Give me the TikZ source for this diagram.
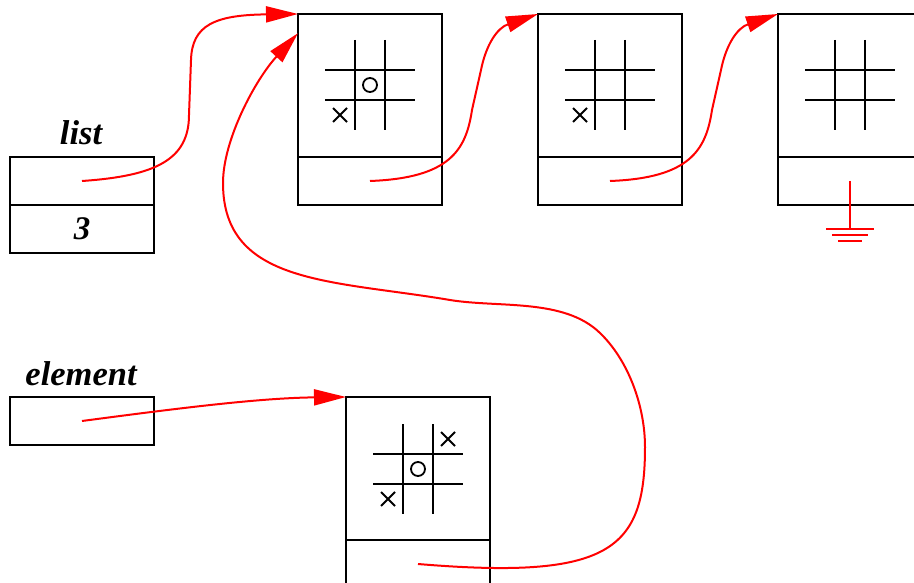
\documentclass[tikz,border=0pt]{standalone}
\usepackage{fontspec}
\setmainfont{Liberation Serif}
\usetikzlibrary{arrows.meta}
\definecolor{LinkRed}{HTML}{FF0000}

\begin{document}
\begin{tikzpicture}[x=1pt, y=-1pt,
  cell/.style={draw, line width=2pt, minimum width=144pt, inner sep=0pt, outer sep=0pt},
  boardcell/.style={cell, minimum height=143pt},
  linkcell/.style={cell, minimum height=48pt, font=\fontsize{33}{36}\selectfont\bfseries\itshape},
  varname/.style={anchor=base, inner sep=0pt, font=\fontsize{34.5}{38}\selectfont\bfseries\itshape},
  pointer/.style={draw=LinkRed, line width=2pt, -{Triangle[length=32pt, width=16pt]}},
  groundline/.style={draw=LinkRed, line width=2pt},
  board/.pic={\draw[line width=2pt] (-45,-15) -- (45,-15) (-45,15) -- (45,15)
    (-15,-45) -- (-15,45) (15,-45) -- (15,45);},
  xmark/.pic={\draw[line width=1.8pt] (-7,-7) -- (7,7) (-7,7) -- (7,-7);},
  omark/.pic={\draw[line width=1.8pt] (0,0) circle[radius=7];}
]
\useasboundingbox (0,0) rectangle (914,583);
\node[varname] (listname) at (81,145) {list};
\node[linkcell] (listhead) at (82,181) {};
\node[linkcell] (listsize) at (82,229) {3};
\node[varname] (elemname) at (81,385) {element};
\node[linkcell] (elemhead) at (82,421) {};
\node[boardcell] (n1board) at (370,85.5) {};
\node[linkcell] (n1link) at (370,181) {};
\node[boardcell] (n2board) at (610,85.5) {};
\node[linkcell] (n2link) at (610,181) {};
\node[boardcell] (n3board) at (850,85.5) {};
\node[linkcell] (n3link) at (850,181) {};
\node[boardcell] (eboard) at (418,468.5) {};
\node[linkcell] (elink) at (418,564) {};
\pic at (370,85) {board};
\pic at (370,85) {omark};
\pic at (340,115) {xmark};
\pic at (610,85) {board};
\pic at (580,115) {xmark};
\pic at (850,85) {board};
\pic at (418,469) {board};
\pic at (418,469) {omark};
\pic at (448,439) {xmark};
\pic at (388,499) {xmark};
\coordinate (earth) at (850,229);
\draw[groundline] (n3link.center) -- (earth);
\draw[groundline] (826,229) -- (874,229) (832,235) -- (868,235) (838,241) -- (862,241);
\draw[pointer] (listhead.center) .. controls (155,176) and (189,160) .. (189,115)
  -- (191,60) .. controls (192,25) and (215,15) .. (n1board.north west);
\draw[pointer] (n1link.center) .. controls (450,178) and (466,150) .. (472,110)
  -- (481,70) .. controls (486,45) and (497,28) .. (n2board.north west);
\draw[pointer] (n2link.center) .. controls (690,178) and (706,150) .. (712,110)
  -- (721,70) .. controls (726,45) and (737,28) .. (n3board.north west);
\draw[pointer] (elemhead.center) .. controls (180,408) and (260,398) .. (eboard.north west);
\draw[pointer] (elink.center) .. controls (610,580) and (645,550) .. (645,447)
  .. controls (645,407) and (629,361) .. (600,333)
  .. controls (564,298) and (499,308) .. (450,300)
  .. controls (332,280) and (223,285) .. (223,183)
  .. controls (223,140) and (255,80) .. (n1board.144);
\end{tikzpicture}
\end{document}
